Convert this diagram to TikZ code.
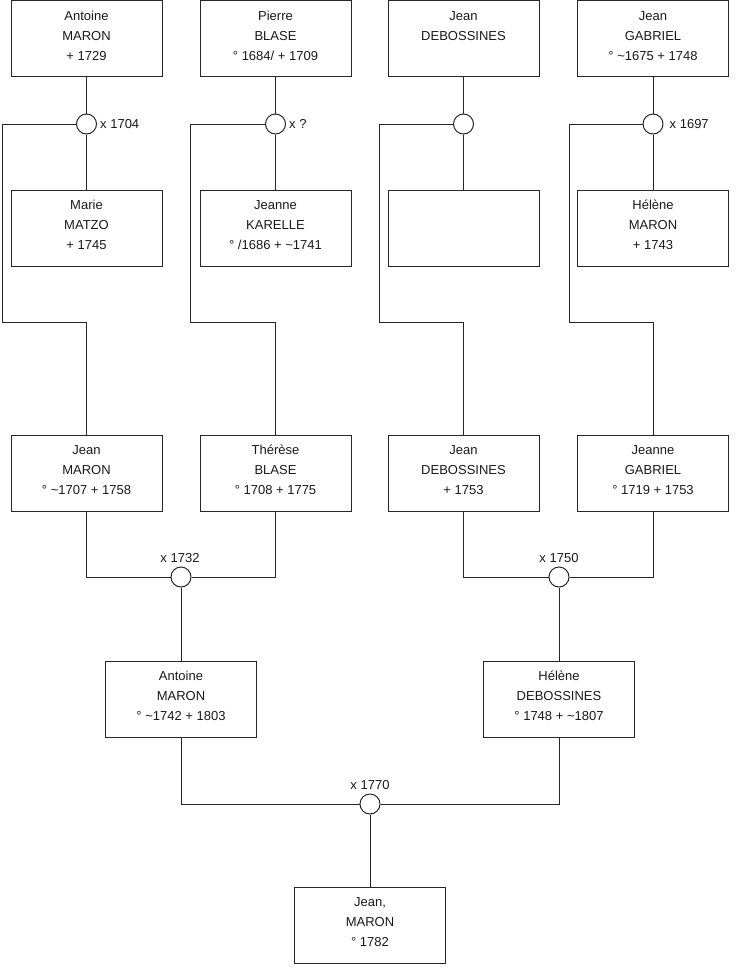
\documentclass[tikz,border=0pt]{standalone}
\usepackage{fontspec}
\setmainfont{Liberation Sans}
\usetikzlibrary{calc}
\tikzset{
  person/.style={draw=black!85, line width=1pt, minimum width=151pt, minimum height=76pt, inner sep=0pt},
  ptxt/.style={anchor=base, inner sep=0pt, font=\fontsize{13}{16}\selectfont, text=black!90},
  union/.style={draw=black!85, circle, minimum size=20pt, inner sep=0pt, line width=1pt, fill=white},
  lbl/.style={inner sep=0pt, font=\fontsize{13}{16}\selectfont, text height=9.4pt, text depth=0pt, text=black!90},
  link/.style={draw=black!85, line width=1pt}
}
\newcommand{\famperson}[6]{%
  \node[person] (#1) at (#2,#3+38) {};
  \node[ptxt] (#1-a) at (#2,#3+19.7) {#4};
  \node[ptxt] (#1-b) at (#2,#3+39.7) {#5};
  \node[ptxt] (#1-c) at (#2,#3+59.7) {#6};
}
\begin{document}
\begin{tikzpicture}[x=1pt,y=-1pt]
\useasboundingbox (0,0) rectangle (740,975);

% row 1
\famperson{p1}{86.5}{0.5}{Antoine}{MARON}{+ 1729}
\famperson{p2}{275.5}{0.5}{Pierre}{BLASE}{° 1684/ + 1709}
\famperson{p3}{463.5}{0.5}{Jean}{DEBOSSINES}{}
\famperson{p4}{653}{0.5}{Jean}{GABRIEL}{° \textasciitilde1675 + 1748}
% row 2
\famperson{q1}{86.5}{190}{Marie}{MATZO}{+ 1745}
\famperson{q2}{275.5}{190}{Jeanne}{KARELLE}{° /1686 + \textasciitilde1741}
\famperson{q3}{463.5}{190}{}{}{}
\famperson{q4}{653}{190}{Hélène}{MARON}{+ 1743}
% row 3
\famperson{r1}{86.5}{435}{Jean}{MARON}{° \textasciitilde1707 + 1758}
\famperson{r2}{275.5}{435}{Thérèse}{BLASE}{° 1708 + 1775}
\famperson{r3}{463.5}{435}{Jean}{DEBOSSINES}{+ 1753}
\famperson{r4}{653}{435}{Jeanne}{GABRIEL}{° 1719 + 1753}
% row 4
\famperson{s1}{181}{661}{Antoine}{MARON}{° \textasciitilde1742 + 1803}
\famperson{s2}{559}{661}{Hélène}{DEBOSSINES}{° 1748 + \textasciitilde1807}
% row 5
\famperson{t1}{370}{887}{Jean,}{MARON}{° 1782}

% unions
\node[union] (u1) at (86.5,124) {};
\node[union] (u2) at (275.5,124) {};
\node[union] (u3) at (463.5,124) {};
\node[union] (u4) at (653,124) {};
\node[union] (v1) at (181,577) {};
\node[union] (v2) at (559,577) {};
\node[union] (w1) at (370,804) {};

% labels
\node[lbl, anchor=west] (lu1) at ($(u1.east)+(3,0)$) {x 1704};
\node[lbl, anchor=west] (lu2) at ($(u2.east)+(3,0)$) {x ?};
\node[lbl, anchor=west] (lu4) at ($(u4.east)+(6,0)$) {x 1697};
\node[lbl] (lv1) at (180,558) {x 1732};
\node[lbl] (lv2) at (559,558) {x 1750};
\node[lbl] (lw1) at (370,785) {x 1770};

% free-end coordinates
\coordinate (c1) at (2,124);
\coordinate (c2) at (190,124);
\coordinate (c3) at (379,124);
\coordinate (c4) at (569,124);

% connectors top generation
\foreach \a/\u/\b/\c/\r in {p1/u1/q1/c1/r1, p2/u2/q2/c2/r2, p3/u3/q3/c3/r3, p4/u4/q4/c4/r4}{
  \draw[link] (\a.south) -- (\u.north);
  \draw[link] (\u.south) -- (\b.north);
  \draw[link] (\u.west) -- (\c) -- (\c |- 0,322) -- (\r.north |- 0,322) -- (\r.north);
}
% second generation
\draw[link] (r1.south) |- (v1.west);
\draw[link] (r2.south) |- (v1.east);
\draw[link] (v1.south) -- (s1.north);
\draw[link] (r3.south) |- (v2.west);
\draw[link] (r4.south) |- (v2.east);
\draw[link] (v2.south) -- (s2.north);
% third generation
\draw[link] (s1.south) |- (w1.west);
\draw[link] (s2.south) |- (w1.east);
\draw[link] (w1.south) -- (t1.north);
\end{tikzpicture}
\end{document}
